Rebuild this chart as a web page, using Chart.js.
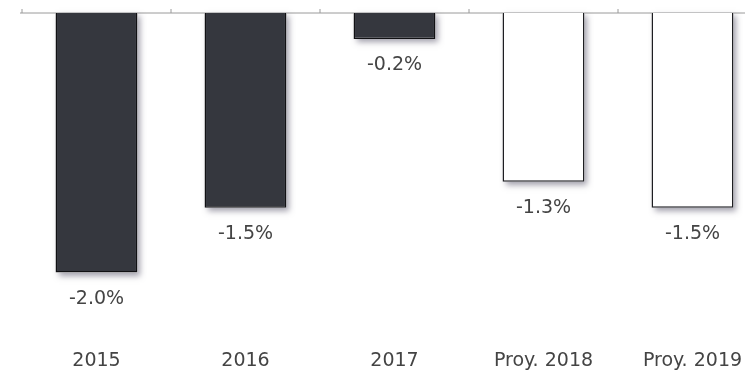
<!DOCTYPE html>
<html>
<head>
<meta charset="utf-8">
<script src="https://cdn.jsdelivr.net/npm/chart.js@4.4.1/dist/chart.umd.min.js"></script>
<style>
  body { margin: 0; background: #fff; overflow: hidden; }
  #wrap { width: 770px; height: 392px; }
</style>
</head>
<body>
<div id="wrap"><canvas id="chart"></canvas></div>
<script>
const years = ["2015", "2016", "2017", "Proy. 2018", "Proy. 2019"];
const growth = [-2.0, -1.5, -0.2, -1.3, -1.5];
const projected = [false, false, false, true, true];

const fillColors = projected.map(p => p ? "#ffffff" : "#35373e");
const edgeColors = projected.map(p => p ? "#1e1e22" : "#111114");
const textFont = "'DejaVu Sans'";

// zero line with small ticks between the categories
const zeroLine = {
    id: "zeroLine",
    beforeDatasetsDraw(chart) {
        const c = chart.ctx;
        const x = chart.scales.x;
        const y0 = chart.scales.y.getPixelForValue(0);
        c.save();
        c.strokeStyle = "#9a9a9a";
        c.lineWidth = 1;
        c.beginPath();
        c.moveTo(x.left - 2, y0);
        c.lineTo(chart.width, y0);
        const step = x.getPixelForValue(1) - x.getPixelForValue(0);
        for (let i = 0; i <= years.length; i++) {
            const px = x.getPixelForValue(0) - step / 2 + i * step;
            c.moveTo(px, y0);
            c.lineTo(px, y0 - 4);
        }
        c.stroke();
        c.restore();
    }
};

// soft drop shadow behind the bars (the bar element clips its own shadow)
const barShadow = {
    id: "barShadow",
    beforeDatasetsDraw(chart) {
        const c = chart.ctx;
        const meta = chart.getDatasetMeta(0);
        c.save();
        c.shadowColor = "rgba(70,65,90,0.5)";
        c.shadowBlur = 6;
        c.shadowOffsetX = 3;
        c.shadowOffsetY = 3;
        c.fillStyle = "#fff";
        meta.data.forEach(bar => {
            const p = bar.getProps(["x", "y", "base", "width"], true);
            c.fillRect(p.x - p.width / 2, p.base, p.width, p.y - p.base);
        });
        c.restore();
    }
};

// percentage under every bar
const valueLabels = {
    id: "valueLabels",
    afterDatasetsDraw(chart) {
        const c = chart.ctx;
        const meta = chart.getDatasetMeta(0);
        c.save();
        c.font = "19px " + textFont;
        c.fillStyle = "#444";
        c.textAlign = "center";
        c.textBaseline = "middle";
        meta.data.forEach((bar, i) => {
            c.fillText(growth[i].toFixed(1) + "%", bar.x, bar.y + 26);
        });
        c.restore();
    }
};

const ctx = document.getElementById("chart").getContext("2d");
const chart = new Chart(ctx, {
    type: "bar",
    data: {
        labels: years,
        datasets: [{
            data: growth,
            backgroundColor: fillColors,
            borderColor: edgeColors,
            borderWidth: 1.5,
            categoryPercentage: 1,
            barPercentage: 0.55
        }]
    },
    options: {
        responsive: true,
        maintainAspectRatio: false,
        animation: false,
        layout: { padding: { left: 22, right: 3, top: 13, bottom: 0 } },
        plugins: { legend: { display: false }, tooltip: { enabled: false } },
        scales: {
            x: {
                grid: { display: false, drawTicks: false },
                border: { display: false },
                ticks: {
                    color: "#444",
                    font: { family: "DejaVu Sans", size: 19, lineHeight: 1 },
                    padding: 21,
                    maxRotation: 0
                }
            },
            y: { display: false, min: -2.45, max: 0 }
        }
    },
    plugins: [zeroLine, barShadow, valueLabels]
});
</script>
</body>
</html>
